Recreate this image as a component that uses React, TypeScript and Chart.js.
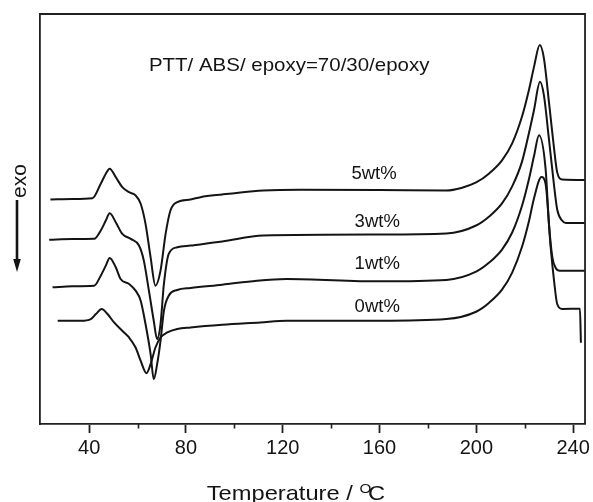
import React, { useEffect, useRef } from 'react';
import { Chart, registerables } from 'chart.js';

Chart.register(...registerables);

// ---- data (temperature in °C, heat flow in arbitrary units, exo up) ----
const t5wt = [24.0, 33, 41.4, 44.8, 46.9, 48.5, 51.0, 53.7, 56.5, 59.2, 61.3, 63.3, 65.4, 67.4, 69.5, 71.6, 73.6, 76.4, 81.9, 86, 95, 107.8, 111.9, 127, 160, 187.6, 193.8, 199.9, 205.3, 210.6, 214.8, 218.9, 221.8, 223.8, 226.2, 227.9, 230.0, 232.1, 233.4, 235.5, 244.8];
const h5wt = [224, 224.5, 225.3, 239.7, 249.7, 254.7, 246.3, 236.3, 231.3, 228, 219.7, 199.7, 166.3, 138, 153, 189.7, 213, 221.3, 224, 226.3, 229, 232.3, 233, 233.7, 233.5, 233, 235.5, 241, 250, 263, 280, 307, 334, 356, 378, 365, 321, 275, 251, 244, 243.5];

const t3wt = [23.5, 33, 42.1, 44.8, 46.9, 48.5, 51.0, 53.7, 57.2, 60.6, 62.6, 64.7, 66.7, 68.1, 69.5, 70.9, 72.9, 76.4, 81.9, 95, 111.9, 160, 187.6, 199.9, 205.3, 210.6, 214.8, 218.9, 221.8, 223.8, 226.3, 227.9, 230.0, 232.1, 233.4, 235.4, 237, 244.8];
const h3wt = [183.7, 184.5, 184.7, 193, 203, 210.3, 201.3, 189.7, 184.7, 178, 163, 133, 103, 84.7, 99.7, 139.7, 169.7, 176.3, 178, 182, 188, 189, 190, 198, 207, 220, 237, 262, 291, 313, 341.3, 328, 284, 238, 214, 203, 200.5, 200.5];

const t1wt = [24.9, 33, 42.1, 44.8, 46.9, 48.5, 51.0, 53.0, 56.5, 59.2, 61.3, 63.3, 65.4, 66.7, 68.1, 69.5, 70.9, 72.9, 76.4, 81.9, 95, 109.3, 121.6, 160, 187.6, 199.9, 205.3, 210.6, 214.8, 218.9, 221.8, 223.8, 225.9, 228.6, 230.0, 231.4, 232.8, 234.5, 244.8];
const h1wt = [136.3, 137.5, 138, 148, 158, 165.7, 156.3, 144.7, 139.7, 133, 123, 99.7, 69.7, 44.7, 59.7, 83, 113, 128, 133.7, 135.7, 139, 143, 144.7, 142.3, 143.7, 152, 161, 174, 191, 218, 245, 267, 288, 254.7, 199.7, 166.3, 155.7, 153, 153];

const t0wt = [27.0, 36.6, 40.7, 42.8, 45.2, 47.6, 50.3, 53.7, 56.5, 59.2, 61.3, 63.7, 65.4, 67.4, 69.5, 72.3, 76.4, 81.9, 95, 110.7, 121.6, 160, 187.6, 199.9, 205.3, 210.6, 214.8, 218.9, 221.8, 223.8, 226.9, 228.6, 230.7, 232.1, 233.4, 235.5, 242.8, 243.2];
const h0wt = [103, 103, 104.7, 109.7, 114.7, 109.7, 101.3, 93, 86.3, 76.3, 63, 50.7, 59.7, 76.3, 86.3, 91.3, 94.7, 96.3, 99, 101.3, 103, 103, 104.7, 112, 121, 134, 151, 177, 203, 225, 246.3, 239.7, 176.3, 143, 119.7, 114.7, 115, 81];

const seriesNames = ['5wt%', '3wt%', '1wt%', '0wt%'];
const majorTicks = [40, 80, 120, 160, 200, 240];
const minorTicks = [60, 100, 140, 180, 220];

const titleText = 'PTT/ ABS/ epoxy=70/30/epoxy';
const xTitleMain = 'Temperature / ';
const xTitleSup = 'O';
const xTitleUnit = 'C';
const yTitle = 'exo';

// ---- placement / style (kept apart from the data) ----
const X_MIN = 19.7;
const X_MAX = 244.9;
const Y_MIN = 0;
const Y_MAX = 409;
const labelX = [148.4, 149.7, 149.7, 149.7]; // left edge of each series label, °C
const labelY = [244.7, 196.3, 154.7, 111.3]; // baseline of each label, data units
const titleFrom = 64.7;
const titleTo = 180.6;
const titleBase = 352;

const FONT = '"Liberation Sans", Arial, Helvetica, sans-serif';
const INK = '#141414';
const AXIS = '#202020';

const makePoints = (t: number[], h: number[]) => t.map((v, i) => ({ x: v, y: h[i] }));

const decorations = {
  id: 'decorations',
  afterDraw(chart: any) {
    const { ctx, chartArea, scales } = chart;
    const xs = scales.x;
    const ys = scales.y;
    ctx.save();

    // top and right frame lines
    ctx.strokeStyle = AXIS;
    ctx.lineWidth = 1.8;
    ctx.beginPath();
    ctx.moveTo(chartArea.left, chartArea.top);
    ctx.lineTo(chartArea.right, chartArea.top);
    ctx.lineTo(chartArea.right, chartArea.bottom);
    ctx.stroke();

    // minor ticks
    ctx.lineWidth = 1.6;
    minorTicks.forEach((v) => {
      const px = Math.round(xs.getPixelForValue(v)) + 0.5;
      ctx.beginPath();
      ctx.moveTo(px, chartArea.bottom);
      ctx.lineTo(px, chartArea.bottom + 4.5);
      ctx.stroke();
    });

    ctx.fillStyle = INK;
    ctx.textBaseline = 'alphabetic';
    ctx.textAlign = 'left';

    // inner title, stretched horizontally to its span
    ctx.font = `17.7px ${FONT}`;
    const tx0 = xs.getPixelForValue(titleFrom);
    const tx1 = xs.getPixelForValue(titleTo);
    const tw = ctx.measureText(titleText).width;
    ctx.save();
    ctx.translate(tx0, ys.getPixelForValue(titleBase));
    ctx.scale((tx1 - tx0) / tw, 1);
    ctx.fillText(titleText, 0, 0);
    ctx.restore();

    // series labels
    ctx.font = `18.5px ${FONT}`;
    seriesNames.forEach((name, i) => {
      ctx.fillText(name, xs.getPixelForValue(labelX[i]), ys.getPixelForValue(labelY[i]));
    });

    // x axis title with superscript O
    const base = chartArea.bottom + 76;
    ctx.font = `21px ${FONT}`;
    const wMain = ctx.measureText(xTitleMain).width;
    const wUnit = ctx.measureText(xTitleUnit).width;
    ctx.font = `13.5px ${FONT}`;
    const wSup = ctx.measureText(xTitleSup).width;
    const overlap = 3;
    const total = wMain + wSup - overlap + wUnit;
    const left = 206.7;
    const right = 385;
    ctx.save();
    ctx.translate(left, base);
    ctx.scale((right - left) / total, 1);
    ctx.font = `21px ${FONT}`;
    ctx.fillText(xTitleMain, 0, 0);
    ctx.font = `13.5px ${FONT}`;
    ctx.fillText(xTitleSup, wMain, -7.5);
    ctx.font = `21px ${FONT}`;
    ctx.fillText(xTitleUnit, wMain + wSup - overlap, 0);
    ctx.restore();

    // y axis label "exo" with downward arrow
    const ax = chartArea.left - 23;
    ctx.save();
    ctx.translate(ax + 3, 181);
    ctx.rotate(-Math.PI / 2);
    ctx.font = `21px ${FONT}`;
    ctx.textAlign = 'center';
    ctx.textBaseline = 'middle';
    ctx.fillText(yTitle, 0, 0);
    ctx.restore();

    ctx.strokeStyle = INK;
    ctx.lineWidth = 2.6;
    ctx.beginPath();
    ctx.moveTo(ax, 200);
    ctx.lineTo(ax, 262);
    ctx.stroke();
    ctx.beginPath();
    ctx.moveTo(ax - 3.8, 259);
    ctx.lineTo(ax + 3.8, 259);
    ctx.lineTo(ax, 272);
    ctx.closePath();
    ctx.fill();

    ctx.restore();
  },
};

export default function App() {
  const canvasRef = useRef<HTMLCanvasElement | null>(null);

  useEffect(() => {
    document.body.style.margin = '0';
    document.body.style.background = '#ffffff';
    const canvas = canvasRef.current;
    if (!canvas) return;

    const series = [
      makePoints(t5wt, h5wt),
      makePoints(t3wt, h3wt),
      makePoints(t1wt, h1wt),
      makePoints(t0wt, h0wt),
    ];

    const chart = new Chart(canvas, {
      type: 'line',
      data: {
        datasets: series.map((pts, i) => ({
          label: seriesNames[i],
          data: pts,
          borderColor: INK,
          borderWidth: 2,
          pointRadius: 0,
          fill: false,
          cubicInterpolationMode: 'monotone' as const,
        })),
      },
      options: {
        responsive: false,
        animation: false,
        devicePixelRatio: 1,
        parsing: false,
        layout: { padding: { left: 40, top: 14, right: 7, bottom: 39 } },
        plugins: {
          legend: { display: false },
          tooltip: { enabled: false },
          title: { display: false },
        },
        scales: {
          x: {
            type: 'linear',
            min: X_MIN,
            max: X_MAX,
            afterBuildTicks: (scale: any) => {
              scale.ticks = majorTicks.map((v) => ({ value: v }));
            },
            ticks: {
              includeBounds: false,
              autoSkip: false,
              maxRotation: 0,
              padding: 3,
              color: INK,
              font: { family: FONT, size: 20 },
            },
            grid: {
              display: true,
              drawOnChartArea: false,
              drawTicks: true,
              tickLength: 9,
              tickWidth: 1.8,
              tickColor: AXIS,
            },
            border: { display: true, color: AXIS, width: 1.8 },
          },
          y: {
            type: 'linear',
            min: Y_MIN,
            max: Y_MAX,
            ticks: { display: false },
            grid: { display: false, drawTicks: false },
            border: { display: true, color: AXIS, width: 1.8 },
          },
        },
      },
      plugins: [decorations],
    } as any);

    return () => chart.destroy();
  }, []);

  return (
    <div style={{ width: 593, height: 502 }}>
      <canvas ref={canvasRef} width={593} height={502} style={{ display: 'block' }} />
    </div>
  );
}
